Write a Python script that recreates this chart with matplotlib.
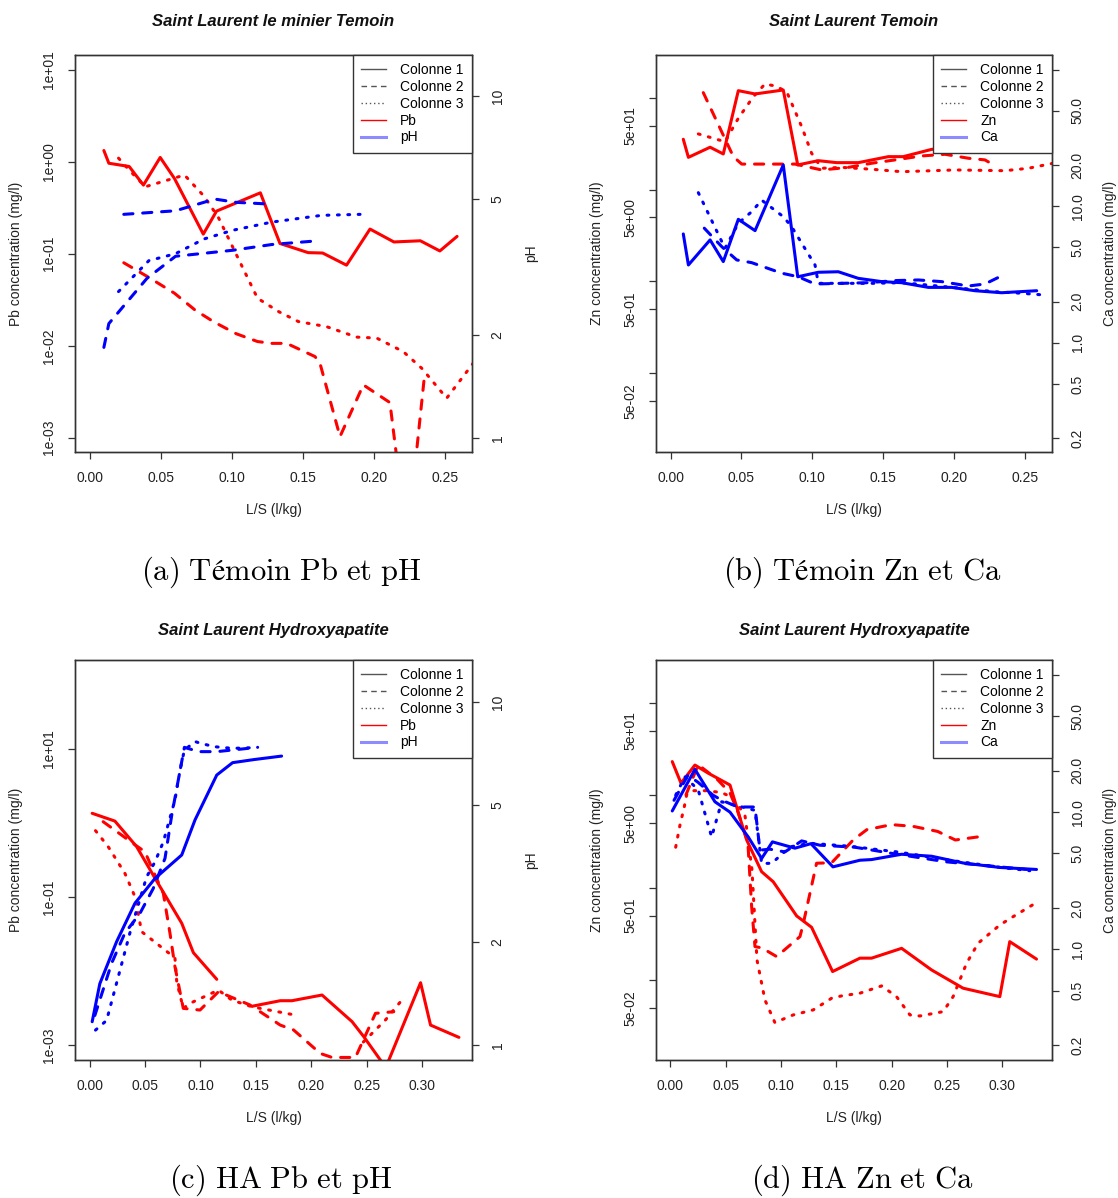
import numpy as np
import matplotlib
matplotlib.use("Agg")
import matplotlib.pyplot as plt
from matplotlib.lines import Line2D
from matplotlib.ticker import NullLocator, NullFormatter

nan = np.nan

# ---- (a) Temoin : Pb (left axis) and pH (right axis) ----
a_pb1_x = [0.0100, 0.0135, 0.0278, 0.0378, 0.0496, 0.0596, 0.0799, 0.0892, 0.1200, 0.1338,
           0.1536, 0.1638, 0.1806, 0.1971, 0.2139, 0.2325, 0.2462, 0.2583]
a_pb1_y = [1.32, 0.96, 0.885, 0.556, 1.11, 0.657, 0.163, 0.290, 0.458, 0.129,
           0.1026, 0.1016, 0.0750, 0.185, 0.134, 0.138, 0.107, 0.154]
a_pb2_x = [0.0240, 0.0403, 0.0596, 0.0741, 0.0874, 0.1030, 0.1180, 0.1280, 0.1385, 0.1584,
           0.1619, 0.1760, 0.1924, 0.2111, 0.2232, 0.2357]
a_pb2_y = [0.0796, 0.0567, 0.0372, 0.0244, 0.0181, 0.0135, 0.0111, 0.0106, 0.0106, 0.00762,
           0.00646, 0.00103, 0.00375, 0.00241, 0.000074, 0.00524]
a_pb3_x = [0.0203, 0.0278, 0.0391, 0.0629, 0.0666, 0.0804, 0.0904, 0.1042, 0.1180, 0.1330,
           0.1467, 0.1666, 0.1877, 0.2018, 0.2205, 0.2334, 0.2510, 0.2720]
a_pb3_y = [1.09, 0.81, 0.533, 0.687, 0.717, 0.421, 0.249, 0.0903, 0.0328, 0.0234,
           0.0183, 0.0161, 0.0124, 0.0121, 0.00862, 0.0057, 0.00269, 0.0072]
a_ph1_x = [0.0100, 0.0135, 0.0403, 0.0604, 0.0779, 0.1005, 0.1280, 0.1556]
a_ph1_y = [1.84, 2.16, 2.93, 3.40, 3.46, 3.54, 3.68, 3.76]
a_ph2_x = [0.0240, 0.0604, 0.0817, 0.0892, 0.1030, 0.1280]
a_ph2_y = [4.51, 4.62, 4.91, 4.99, 4.89, 4.83]
a_ph3_x = [0.0203, 0.0416, 0.0604, 0.0804, 0.1005, 0.1280, 0.1631, 0.1906]
a_ph3_y = [2.68, 3.30, 3.46, 3.82, 4.05, 4.28, 4.48, 4.51]

# ---- (b) Temoin : Zn (left axis) and Ca (right axis) ----
b_zn1_x = [0.0090, 0.0126, 0.0279, 0.0372, 0.0478, 0.0596, 0.0795, 0.0897, 0.1042, 0.1172,
           0.1324, 0.1536, 0.1641, 0.1842, 0.2040, 0.2320]
b_zn1_y = [35.4, 22.5, 29.0, 24.5, 119.8, 110.3, 121.8, 18.6, 20.7, 19.7,
           19.7, 22.9, 22.9, 27.5, 28.0, 28.5]
b_zn2_x = [0.0231, 0.0443, 0.0502, 0.0878, 0.1066, 0.1254, 0.1418, 0.1583, 0.1771, 0.1935,
           0.2100, 0.2217, 0.2300]
b_zn2_y = [114, 22.9, 19.0, 19.0, 16.4, 17.5, 19.4, 21.1, 23.3, 24.3,
           22.0, 21.1, 17.8]
b_zn3_x = [0.0196, 0.0384, 0.0478, 0.0584, 0.0666, 0.0737, 0.0819, 0.0925, 0.0995, 0.1066,
           0.1207, 0.1418, 0.1630, 0.2006, 0.2358, 0.2523, 0.2699]
b_zn3_y = [40.5, 33.3, 60, 103, 141.6, 134.8, 116.8, 48.5, 24.9, 17.1,
           17.5, 16.7, 15.7, 16.4, 16.1, 17.1, 19.4]
b_ca1_x = [0.0090, 0.0126, 0.0279, 0.0372, 0.0478, 0.0596, 0.0795, 0.0897, 0.1042, 0.1183,
           0.1324, 0.1489, 0.1630, 0.1818, 0.1983, 0.2147, 0.2335, 0.2582]
b_ca1_y = [6.28, 3.72, 5.68, 3.94, 8.04, 6.64, 20.1, 3.05, 3.29, 3.32,
           2.97, 2.81, 2.76, 2.55, 2.55, 2.41, 2.33, 2.41]
b_ca2_x = [0.0238, 0.0361, 0.0467, 0.0572, 0.0784, 0.0901, 0.1019, 0.1207, 0.1395, 0.1583,
           0.1747, 0.1912, 0.2100, 0.2217, 0.2346]
b_ca2_y = [6.92, 5.07, 4.05, 3.87, 3.24, 3.05, 2.70, 2.73, 2.76, 2.86,
           2.89, 2.81, 2.61, 2.70, 3.14]
b_ca3_x = [0.0196, 0.0384, 0.0478, 0.0572, 0.0643, 0.0795, 0.0854, 0.0925, 0.1019, 0.1042,
           0.1207, 0.1418, 0.1630, 0.1818, 0.2053, 0.2288, 0.2476, 0.2640]
b_ca3_y = [12.6, 4.93, 7.52, 9.14, 11.1, 8.41, 7.10, 5.37, 3.72, 2.73,
           2.73, 2.73, 2.76, 2.65, 2.51, 2.37, 2.31, 2.24]

# ---- (c) HA : Pb and pH ----
c_pb1_x = [0.0023, 0.0228, 0.0424, 0.0590, 0.0831, 0.0936, 0.1147, nan, 0.1478, 0.1720,
           0.1825, 0.2097, 0.2368, 0.2473, 0.2672, 0.2986, 0.3076, 0.3332]
c_pb1_y = [1.35, 1.06, 0.479, 0.179, 0.0442, 0.0177, 0.00773, nan, 0.00337, 0.00397,
           0.00397, 0.00474, 0.00207, 0.00130, 0.000496, 0.00695, 0.00186, 0.00127]
c_pb2_x = [0.0122, 0.0424, 0.0499, 0.0590, 0.0665, 0.0725, 0.0770, 0.0845, 0.0996, 0.1162,
           0.1448, 0.1720, 0.1840, 0.2081, 0.2187, 0.2398, 0.2579, 0.2744]
c_pb2_y = [1.04, 0.489, 0.409, 0.198, 0.112, 0.0323, 0.0114, 0.00313, 0.00297, 0.00525,
           0.00347, 0.00186, 0.00160, 0.00077, 0.00068, 0.00068, 0.00268, 0.00282]
c_pb3_x = [0.0053, 0.0167, 0.0318, 0.0409, 0.0469, 0.0710, 0.0770, 0.0786, 0.0845, 0.0906,
           0.1162, 0.1283, 0.1464, 0.1855, nan, 0.2470, 0.2669, 0.2805]
c_pb3_y = [0.787, 0.479, 0.209, 0.101, 0.0340, 0.0177, 0.0149, 0.00716, 0.00313, 0.00366,
           0.00553, 0.00405, 0.00329, 0.00254, nan, 0.0011, 0.00218, 0.00385]
c_ph1_x = [0.0023, 0.0092, 0.0243, 0.0409, 0.0590, 0.0831, 0.0951, 0.1147, 0.1290, 0.1484, 0.1732]
c_ph1_y = [1.17, 1.51, 2.00, 2.59, 3.06, 3.58, 4.53, 6.12, 6.65, 6.79, 6.95]
c_ph2_x = [0.0047, 0.0198, 0.0318, 0.0454, 0.0574, 0.0680, 0.0741, 0.0800, 0.0855, 0.0985,
           0.1146, 0.1290, 0.1516]
c_ph2_y = [1.22, 1.73, 2.12, 2.42, 2.86, 3.50, 4.68, 5.92, 7.37, 7.16,
           7.16, 7.24, 7.37]
c_ph3_x = [0.0053, 0.0153, 0.0258, 0.0363, 0.0424, 0.0514, 0.0590, 0.0665, 0.0770, 0.0816,
           0.0855, 0.0952, 0.1001, 0.1129, 0.1290, 0.1516]
c_ph3_y = [1.106, 1.18, 1.58, 2.12, 2.47, 3.09, 3.42, 3.91, 5.18, 6.33,
           7.24, 7.66, 7.57, 7.40, 7.32, 7.36]

# ---- (d) HA : Zn and Ca ----
d_zn1_x = [0.0016, 0.0095, 0.0221, 0.0342, 0.0538, 0.0689, 0.0824, 0.0929, 0.1141, 0.1276,
           0.1466, 0.1713, 0.1818, 0.2090, 0.2361, 0.2646, 0.2978, 0.3068, 0.3310]
d_zn1_y = [23.1, 13.5, 21.2, 17.3, 12.9, 3.28, 1.49, 1.16, 0.495, 0.373,
           0.124, 0.173, 0.173, 0.221, 0.129, 0.0819, 0.0664, 0.261, 0.169]
d_zn2_x = [0.0140, 0.0251, 0.0429, 0.0538, 0.0610, 0.0700, 0.0734, 0.0764, 0.0827, 0.0960,
           0.1171, 0.1201, 0.1321, 0.1457, 0.1652, 0.1775, 0.1999, 0.2192, 0.2416, 0.2576, 0.2801]
d_zn2_y = [10.1, 21.4, 14.6, 10.6, 6.59, 3.05, 0.623, 0.231, 0.223, 0.180,
           0.296, 0.41, 1.84, 1.86, 3.28, 4.24, 4.81, 4.61, 4.06, 3.28, 3.57]
d_zn3_x = [0.0047, 0.0086, 0.0125, 0.0146, 0.0189, 0.0317, 0.0462, 0.0558, 0.0673, 0.0737,
           0.0782, 0.0854, 0.0944, 0.1110, 0.1291, 0.1457, 0.1547, 0.1713, 0.1909, 0.2044,
           0.2165, 0.2255, 0.2466, 0.2556, 0.2677, 0.2782, 0.2978, 0.3098, 0.3274]
d_zn3_y = [2.74, 4.77, 7.52, 10.1, 11.2, 11.2, 10.7, 9.46, 6.12, 1.56,
           0.166, 0.0612, 0.0348, 0.0421, 0.0477, 0.0638, 0.0676, 0.0723, 0.0867, 0.0664,
           0.0421, 0.0410, 0.0457, 0.0664, 0.152, 0.251, 0.395, 0.486, 0.651]
d_ca1_x = [0.0016, 0.0221, 0.0402, 0.0538, 0.0703, 0.0824, 0.0922, 0.1125, 0.1270, 0.1469,
           0.1713, 0.1818, 0.2090, 0.2361, 0.2646, 0.2978, 0.3310]
d_ca1_y = [10.2, 20.5, 11.9, 10.0, 6.59, 4.59, 6.07, 5.46, 5.89, 3.99,
           4.46, 4.51, 4.93, 4.77, 4.26, 3.95, 3.82]
d_ca2_x = [0.0032, 0.0158, 0.0249, 0.0384, 0.0465, 0.0610, 0.0764, 0.0809, 0.0899, 0.1035,
           0.1186, 0.1350, 0.1667, 0.2011, 0.2496, 0.2978, 0.3219]
d_ca2_y = [12.2, 18.6, 16.5, 13.3, 12.2, 10.9, 10.9, 5.28, 5.37, 5.13,
           6.17, 5.74, 5.55, 4.99, 4.34, 3.99, 3.82]
d_ca3_x = [0.0047, 0.0131, 0.0251, 0.0372, 0.0463, 0.0628, 0.0764, 0.0824, 0.0917, 0.1080,
           0.1261, 0.1622, 0.2074, 0.2526, 0.2978, 0.3249]
d_ca3_y = [13.3, 18.1, 14.5, 6.59, 11.9, 11.0, 10.3, 4.22, 4.24, 5.58,
           5.93, 5.64, 5.10, 4.46, 3.96, 3.74]

# ---- axis ticks ----
x_ticks_short = [0.0, 0.05, 0.10, 0.15, 0.20, 0.25]
x_ticks_long = [0.0, 0.05, 0.10, 0.15, 0.20, 0.25, 0.30]
pb_ticks_a = [1e-3, 1e-2, 1e-1, 1, 10]
pb_labels_a = ['1e-03', '1e-02', '1e-01', '1e+00', '1e+01']
pb_ticks_c = [1e-3, 1e-1, 10]
pb_labels_c = ['1e-03', '1e-01', '1e+01']
ph_ticks = [1, 2, 5, 10]
ph_labels = ['1', '2', '5', '10']
zn_ticks = [0.05, 0.1, 0.5, 1, 5, 10, 50, 100]
zn_labels = ['5e-02', '', '5e-01', '', '5e+00', '', '5e+01', '']
ca_ticks = [0.2, 0.5, 1, 2, 5, 10, 20, 50, 100]
ca_labels = ['0.2', '0.5', '1.0', '2.0', '5.0', '10.0', '20.0', '50.0', '']

plt.rcParams['font.family'] = ['Liberation Sans', 'DejaVu Sans']
plt.rcParams['mathtext.fontset'] = 'cm'

W, H = 1118, 1198
fig = plt.figure(figsize=(W / 100, H / 100), dpi=100)

AXC = '#333333'
LS = {1: '-', 2: (0, (3, 3.2)), 3: (0, (0.6, 2.8))}


def fx(x):
    return x / W


def fy(y):
    return 1 - y / H


def style(a):
    for s in a.spines.values():
        s.set_color(AXC)
        s.set_linewidth(1.0)
    a.tick_params(direction='out', length=5, width=0.9, color=AXC,
                  labelsize=10, labelcolor='#222222')
    a.tick_params(axis='x', pad=9)
    a.tick_params(axis='y', pad=8.5)


def lines(a, series, color, styles):
    for (x, y), st in zip(series, styles):
        a.plot(x, y, color=color, lw=2.2, linestyle=LS[st],
               dash_capstyle='round', solid_capstyle='round',
               solid_joinstyle='round', dash_joinstyle='round')


def panel(box, xlim, xticks, ylim, yt, ytl, y2lim, y2t, y2tl,
          red, blue, blue_styles, names, title, ylab, y2lab, lab_x, title_y, xlab_y):
    l, t, r, b = box
    ax = fig.add_axes([fx(l), fy(b), (r - l) / W, (b - t) / H])
    ax.set_yscale('log')
    ax.set_xlim(*xlim)
    ax.set_ylim(*ylim)
    lines(ax, red, 'red', [1, 2, 3])
    ax.set_xticks(xticks, ['%.2f' % v for v in xticks])
    ax.set_yticks(yt, ytl, rotation=90, va='center')
    ax.yaxis.set_minor_locator(NullLocator())
    ax.yaxis.set_minor_formatter(NullFormatter())
    style(ax)

    ax2 = ax.twinx()
    ax2.set_yscale('log')
    ax2.set_ylim(*y2lim)
    lines(ax2, blue, 'blue', blue_styles)
    ax2.set_yticks(y2t, y2tl, rotation=90, va='center')
    ax2.yaxis.set_minor_locator(NullLocator())
    ax2.yaxis.set_minor_formatter(NullFormatter())
    style(ax2)

    handles = [Line2D([], [], color='#555555', lw=1.0, ls='-'),
               Line2D([], [], color='#555555', lw=1.0, ls=(0, (4, 3))),
               Line2D([], [], color='#555555', lw=1.0, ls=(0, (1, 2))),
               Line2D([], [], color='red', lw=1.0),
               Line2D([], [], color='blue', lw=2.2, alpha=0.45)]
    labels = ['Colonne 1', 'Colonne 2', 'Colonne 3'] + names
    leg = ax2.legend(handles, labels, loc='upper right', bbox_to_anchor=(1, 1),
                     borderaxespad=0, fancybox=False, framealpha=1, edgecolor=AXC,
                     fontsize=10, labelspacing=0.2, handlelength=1.8,
                     handletextpad=1.0, borderpad=0.6)
    leg.get_frame().set_linewidth(1.0)
    leg.set_zorder(10)

    cx = (l + r) / 2
    cy = (t + b) / 2
    fig.text(fx(cx), fy(title_y), title, ha='center', va='center',
             fontsize=12, fontweight='bold', fontstyle='italic', color='#111111')
    fig.text(fx(cx), fy(xlab_y), 'L/S (l/kg)', ha='center', va='center',
             fontsize=10, color='#222222')
    fig.text(fx(lab_x[0]), fy(cy), ylab, ha='center', va='center', rotation=90,
             fontsize=10, color='#222222')
    fig.text(fx(lab_x[1]), fy(cy), y2lab, ha='center', va='center', rotation=90,
             fontsize=10, color='#222222')
    return ax


panel((75, 55, 472, 452), (-0.0103, 0.2688), x_ticks_short,
      (7.0e-4, 14.4), pb_ticks_a, pb_labels_a, (0.909, 13.2), ph_ticks, ph_labels,
      [(a_pb1_x, a_pb1_y), (a_pb2_x, a_pb2_y), (a_pb3_x, a_pb3_y)],
      [(a_ph1_x, a_ph1_y), (a_ph2_x, a_ph2_y), (a_ph3_x, a_ph3_y)], [2, 2, 3],
      ['Pb', 'pH'], 'Saint Laurent le minier Temoin', 'Pb concentration (mg/l)', 'pH',
      (16, 531), 21, 510)

panel((656, 55, 1052, 452), (-0.01025, 0.269), x_ticks_short,
      (0.0139, 293), zn_ticks, zn_labels, (0.1587, 128.5), ca_ticks, ca_labels,
      [(b_zn1_x, b_zn1_y), (b_zn2_x, b_zn2_y), (b_zn3_x, b_zn3_y)],
      [(b_ca1_x, b_ca1_y), (b_ca2_x, b_ca2_y), (b_ca3_x, b_ca3_y)], [1, 2, 3],
      ['Zn', 'Ca'], 'Saint Laurent Temoin', 'Zn concentration (mg/l)', 'Ca concentration (mg/l)',
      (597, 1110), 21, 510)

panel((75, 660, 472, 1060), (-0.0132, 0.345), x_ticks_long,
      (6.28e-4, 159), pb_ticks_c, pb_labels_c, (0.905, 13.24), ph_ticks, ph_labels,
      [(c_pb1_x, c_pb1_y), (c_pb2_x, c_pb2_y), (c_pb3_x, c_pb3_y)],
      [(c_ph1_x, c_ph1_y), (c_ph2_x, c_ph2_y), (c_ph3_x, c_ph3_y)], [1, 2, 3],
      ['Pb', 'pH'], 'Saint Laurent Hydroxyapatite', 'Pb concentration (mg/l)', 'pH',
      (16, 531), 630, 1118)

panel((656, 660, 1052, 1060), (-0.0131, 0.345), x_ticks_long,
      (0.0137, 290), zn_ticks, zn_labels, (0.156, 128.5), ca_ticks, ca_labels,
      [(d_zn1_x, d_zn1_y), (d_zn2_x, d_zn2_y), (d_zn3_x, d_zn3_y)],
      [(d_ca1_x, d_ca1_y), (d_ca2_x, d_ca2_y), (d_ca3_x, d_ca3_y)], [1, 2, 3],
      ['Zn', 'Ca'], 'Saint Laurent Hydroxyapatite', 'Zn concentration (mg/l)', 'Ca concentration (mg/l)',
      (597, 1110), 630, 1118)

captions = [(281, 572, '$\\mathrm{(a)\\ Témoin\\ Pb\\ et\\ pH}$'),
            (862, 572, '$\\mathrm{(b)\\ Témoin\\ Zn\\ et\\ Ca}$'),
            (281, 1180, '$\\mathrm{(c)\\ HA\\ Pb\\ et\\ pH}$'),
            (862, 1180, '$\\mathrm{(d)\\ HA\\ Zn\\ et\\ Ca}$')]
for x, y, s in captions:
    fig.text(fx(x), fy(y), s, ha='center', va='center', fontsize=22, color='black')

fig.savefig('out.png', dpi=100)
